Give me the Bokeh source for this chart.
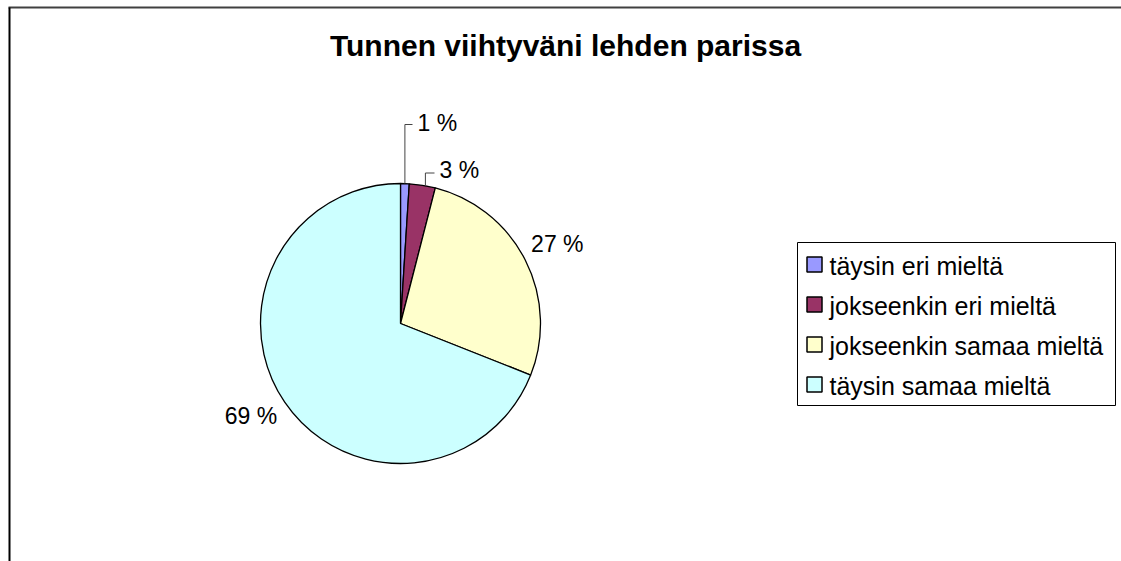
import numpy as np
from bokeh.plotting import figure
from bokeh.models import Range1d, ColumnDataSource
from bokeh.core.properties import value
from bokeh.embed import file_html
from bokeh.resources import INLINE

# ---- data ----
title_text = "Tunnen viihtyväni lehden parissa"
categories = ["täysin eri mieltä", "jokseenkin eri mieltä",
              "jokseenkin samaa mieltä", "täysin samaa mieltä"]
percents = [1, 3, 27, 69]
labels = ["1 %", "3 %", "27 %", "69 %"]
colors = ["#9999FF", "#993366", "#FFFFCC", "#CCFFFF"]

# ---- layout (screen pixel coordinates of the picture) ----
W, H = 1121, 561
FONT = value("Liberation Sans")


def sy(y):
    """picture y (downwards) -> data y (upwards)"""
    return H - y


cx, cy, R = 400, 323, 140
label_r = 176
label_nudge = {2: (0, 0), 3: (-4, -6)}
# small slices get a leader line: (leader x shift, elbow y, text left x, text centre y)
leader_layout = {0: (0, 124, 417, 122), 1: (3, 172.5, 439, 169.5)}

p = figure(width=W, height=H, x_range=Range1d(0, W), y_range=Range1d(0, H),
           output_backend="svg", toolbar_location=None, min_border=0,
           x_axis_type=None, y_axis_type=None)
p.grid.visible = False
p.outline_line_color = None
p.background_fill_color = "white"
p.border_fill_color = "white"

# chart border (top + left visible in the window)
p.segment(x0=[8, 9], y0=[sy(7), sy(7)], x1=[W + 10, 9], y1=[sy(7), -10],
          line_color=["#404040", "black"], line_width=2)

# pie
vals = np.array(percents, dtype=float)
cum = np.concatenate([[0], np.cumsum(vals)]) / vals.sum()
start_frac, end_frac = cum[:-1], cum[1:]
src = ColumnDataSource(dict(
    start=np.pi / 2 - 2 * np.pi * end_frac,
    end=np.pi / 2 - 2 * np.pi * start_frac,
    color=colors,
))
p.wedge(x=cx, y=sy(cy), radius=R, start_angle="start", end_angle="end",
        fill_color="color", line_color="black", line_width=1.3, source=src)

# data labels
mid = 2 * np.pi * (start_frac + end_frac) / 2  # clockwise from top
for i, lab in enumerate(labels):
    if i in leader_layout:
        dx, ey, tx, ty = leader_layout[i]
        x_edge = cx + R * np.sin(mid[i]) + dx
        y_edge = cy - np.sqrt(R ** 2 - (x_edge - cx) ** 2)
        p.line(x=[x_edge, x_edge, tx - 5], y=[sy(y_edge), sy(ey), sy(ey)],
               line_color="#444444", line_width=1)
        p.text(x=[tx], y=[sy(ty)], text=[lab], text_font=FONT,
               text_font_size="23px", text_align="left",
               text_baseline="middle", text_color="black")
    else:
        nx, ny = label_nudge.get(i, (0, 0))
        lx = cx + label_r * np.sin(mid[i]) + nx
        ly = cy - label_r * np.cos(mid[i]) + ny
        p.text(x=[lx], y=[sy(ly)], text=[lab], text_font=FONT,
               text_font_size="23px", text_align="center",
               text_baseline="middle", text_color="black")

# title
p.text(x=[565], y=[sy(45)], text=[title_text], text_font=FONT,
       text_font_size="30px", text_font_style="bold", text_align="center",
       text_baseline="middle", text_color="black")

# legend
p.quad(left=797, right=1115, top=sy(242), bottom=sy(405),
       fill_color="white", line_color="black", line_width=1)
n = len(categories)
p.rect(x=[814] * n, y=[sy(264 + 40 * i) for i in range(n)], width=15, height=15,
       fill_color=colors, line_color="black", line_width=1.5)
p.text(x=[829] * n, y=[sy(265 + 40 * i) for i in range(n)], text=categories,
       text_font=FONT, text_font_size="25px", text_align="left",
       text_baseline="middle", text_color="black")

open("out.html", "w").write(file_html(p, INLINE))
